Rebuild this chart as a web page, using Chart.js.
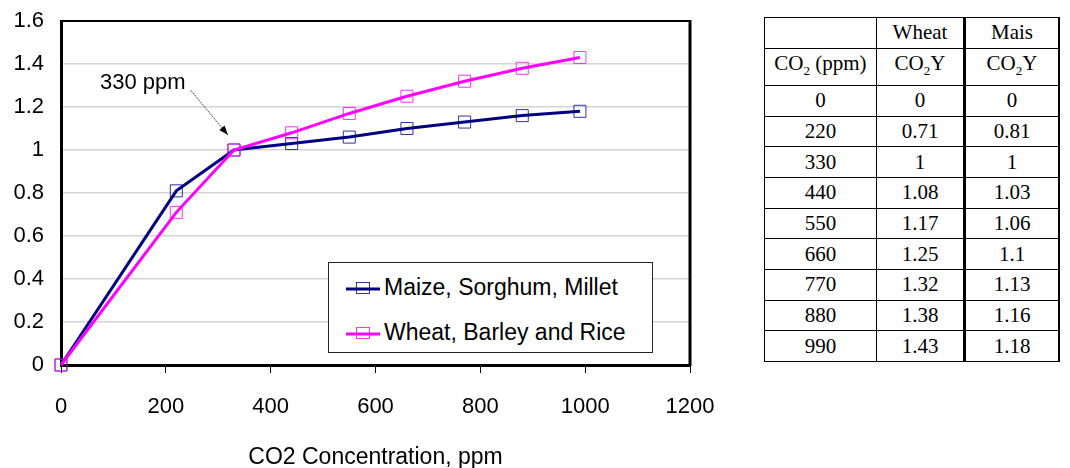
<!DOCTYPE html>
<html>
<head>
<meta charset="utf-8">
<script src="https://cdn.jsdelivr.net/npm/chart.js@4.4.4/dist/chart.umd.min.js"></script>
<style>
  html, body { margin: 0; padding: 0; background: #fff; }
  body { width: 1070px; height: 468px; position: relative; overflow: hidden; font-family: 'Liberation Sans', Arial, sans-serif; }
  #chart-wrap { position: absolute; left: 0; top: 0; width: 740px; height: 468px; }
  .legend-box { position: absolute; left: 328px; top: 262px; width: 323px; height: 89px; border: 1px solid #222; background: #fff; font-size: 23px; color: #000; }
  .legend-item { position: absolute; left: 17px; display: flex; align-items: center; white-space: nowrap; }
  .legend-item svg { margin-right: 4px; }
  table.co2 { position: absolute; left: 764px; top: 17px; border-collapse: collapse; font-family: 'Liberation Serif', 'Times New Roman', serif; font-size: 21px; color: #000; }
  table.co2 td { border: 1.5px solid #000; height: 29.7px; padding: 0; text-align: center; line-height: 29px; }
  table.co2 td.c1 { width: 111px; }
  table.co2 td.c2 { width: 86px; border-right-width: 3px; }
  table.co2 td.c3 { width: 92px; border-right-width: 2.5px; }
</style>
</head>
<body>
<div id="chart-wrap"><canvas id="chart" width="740" height="468"></canvas></div>
<div class="legend-box" id="legend"></div>
<table class="co2" id="co2-table"></table>
<script>
// CO2 concentration (ppm) and relative yield factors
const co2 = [0, 220, 330, 440, 550, 660, 770, 880, 990];
const maize = [0, 0.81, 1, 1.03, 1.06, 1.1, 1.13, 1.16, 1.18];   // Maize, Sorghum, Millet (C4)
const wheat = [0, 0.71, 1, 1.08, 1.17, 1.25, 1.32, 1.38, 1.43];  // Wheat, Barley and Rice (C3)
const seriesNames = ['Maize, Sorghum, Millet', 'Wheat, Barley and Rice'];
const xTicks = [0, 200, 400, 600, 800, 1000, 1200];
const yTicks = [0, 0.2, 0.4, 0.6, 0.8, 1, 1.2, 1.4, 1.6];

const NAVY = '#000080';
const MAGENTA = '#ff00ff';

Chart.defaults.font.family = "'Liberation Sans', Arial, sans-serif";
Chart.defaults.font.size = 22;
Chart.defaults.color = '#000';

// frame + "330 ppm" note
const framePlugin = {
  id: 'frame',
  beforeDatasetsDraw(chart) {
    const { ctx, chartArea: a } = chart;
    ctx.save();
    ctx.strokeStyle = '#000';
    ctx.lineWidth = 2;
    ctx.beginPath(); ctx.moveTo(a.left, a.top); ctx.lineTo(a.right, a.top); ctx.stroke();
    ctx.lineWidth = 3;
    ctx.beginPath(); ctx.moveTo(a.right, a.top - 1); ctx.lineTo(a.right, a.bottom + 1); ctx.stroke();
    ctx.restore();
  },
  afterDatasetsDraw(chart) {
    const { ctx, scales: { x, y } } = chart;
    const tx = x.getPixelForValue(156), ty = y.getPixelForValue(1.31);
    ctx.save();
    ctx.font = "22px 'Liberation Sans', Arial, sans-serif";
    ctx.fillStyle = '#000';
    ctx.textAlign = 'center';
    ctx.textBaseline = 'middle';
    ctx.fillText('330 ppm', tx, ty);
    const x0 = tx + 48, y0 = ty + 7;
    const x1 = x.getPixelForValue(330) - 6, y1 = y.getPixelForValue(1) - 15;
    ctx.strokeStyle = '#444';
    ctx.lineWidth = 1;
    ctx.setLineDash([2, 1]);
    ctx.beginPath(); ctx.moveTo(x0, y0); ctx.lineTo(x1, y1); ctx.stroke();
    ctx.setLineDash([]);
    const ang = Math.atan2(y1 - y0, x1 - x0);
    ctx.fillStyle = '#000';
    ctx.beginPath();
    ctx.moveTo(x1, y1);
    ctx.lineTo(x1 - 10 * Math.cos(ang - 0.35), y1 - 10 * Math.sin(ang - 0.35));
    ctx.lineTo(x1 - 10 * Math.cos(ang + 0.35), y1 - 10 * Math.sin(ang + 0.35));
    ctx.closePath();
    ctx.fill();
    ctx.restore();
  }
};

const toPoints = vals => co2.map((c, i) => ({ x: c, y: vals[i] }));

new Chart(document.getElementById('chart').getContext('2d'), {
  type: 'line',
  data: {
    datasets: [
      { label: seriesNames[0], data: toPoints(maize), borderColor: NAVY, borderWidth: 3, order: 2,
        pointStyle: 'rect', pointRadius: 8.5, pointBorderWidth: 1, pointBorderColor: 'rgba(0,0,128,0.8)', pointBackgroundColor: 'rgba(0,0,0,0)' },
      { label: seriesNames[1], data: toPoints(wheat), borderColor: MAGENTA, borderWidth: 3, order: 1,
        pointStyle: 'rect', pointRadius: 8.5, pointBorderWidth: 1, pointBorderColor: 'rgba(255,0,255,0.8)', pointBackgroundColor: 'rgba(0,0,0,0)' },
    ],
  },
  options: {
    responsive: false,
    animation: false,
    clip: false,
    layout: { padding: { top: 21, right: 50, left: 0, bottom: 0 } },
    plugins: { legend: { display: false }, tooltip: { enabled: false } },
    elements: { line: { tension: 0 } },
    scales: {
      x: {
        type: 'linear', min: 0, max: 1200,
        afterBuildTicks: s => { s.ticks = xTicks.map(v => ({ value: v })); },
        afterFit: s => { s.height = 103; },
        ticks: { padding: 21, maxRotation: 0, callback: v => String(v) },
        grid: { drawOnChartArea: false, drawTicks: true, tickLength: 8, tickColor: '#000', tickWidth: 1 },
        border: { color: '#000', width: 3 },
        title: { display: true, text: 'CO2 Concentration, ppm', padding: { top: 0, bottom: -3 }, font: { size: 23 } },
      },
      y: {
        min: 0, max: 1.6,
        afterBuildTicks: s => { s.ticks = yTicks.map(v => ({ value: v })); },
        afterFit: s => { s.width = 61; s.paddingTop = 0; s.paddingBottom = 0; },
        ticks: { padding: 17, callback: v => String(v) },
        grid: { color: '#d4d4d4', lineWidth: 1.5, drawTicks: false },
        border: { color: '#000', width: 3 },
      },
    },
  },
  plugins: [framePlugin],
});

// legend
const legend = document.getElementById('legend');
[[NAVY, 'rgba(0,0,128,0.8)'], [MAGENTA, 'rgba(255,0,255,0.8)']].forEach(([c, mk], i) => {
  const item = document.createElement('div');
  item.className = 'legend-item';
  item.style.top = (i === 0 ? 11 : 56) + 'px';
  item.innerHTML = `<svg width="34" height="20" viewBox="0 0 34 20"><rect x="10.5" y="4.5" width="13" height="11" fill="none" stroke="${mk}" stroke-width="1"/><line x1="0" y1="11" x2="34" y2="11" stroke="${c}" stroke-width="3"/></svg><span>${seriesNames[i]}</span>`;
  legend.appendChild(item);
});

// data table
const table = document.getElementById('co2-table');
let html = '<tr><td class="c1"></td><td class="c2">Wheat</td><td class="c3">Mais</td></tr>';
html += '<tr><td class="c1">CO<sub style="font-size:13px">2</sub> (ppm)</td><td class="c2">CO<sub style="font-size:13px">2</sub>Y</td><td class="c3">CO<sub style="font-size:13px">2</sub>Y</td></tr>';
co2.forEach((c, i) => {
  html += `<tr><td class="c1">${c}</td><td class="c2">${wheat[i]}</td><td class="c3">${maize[i]}</td></tr>`;
});
table.innerHTML = html;
</script>
</body>
</html>
